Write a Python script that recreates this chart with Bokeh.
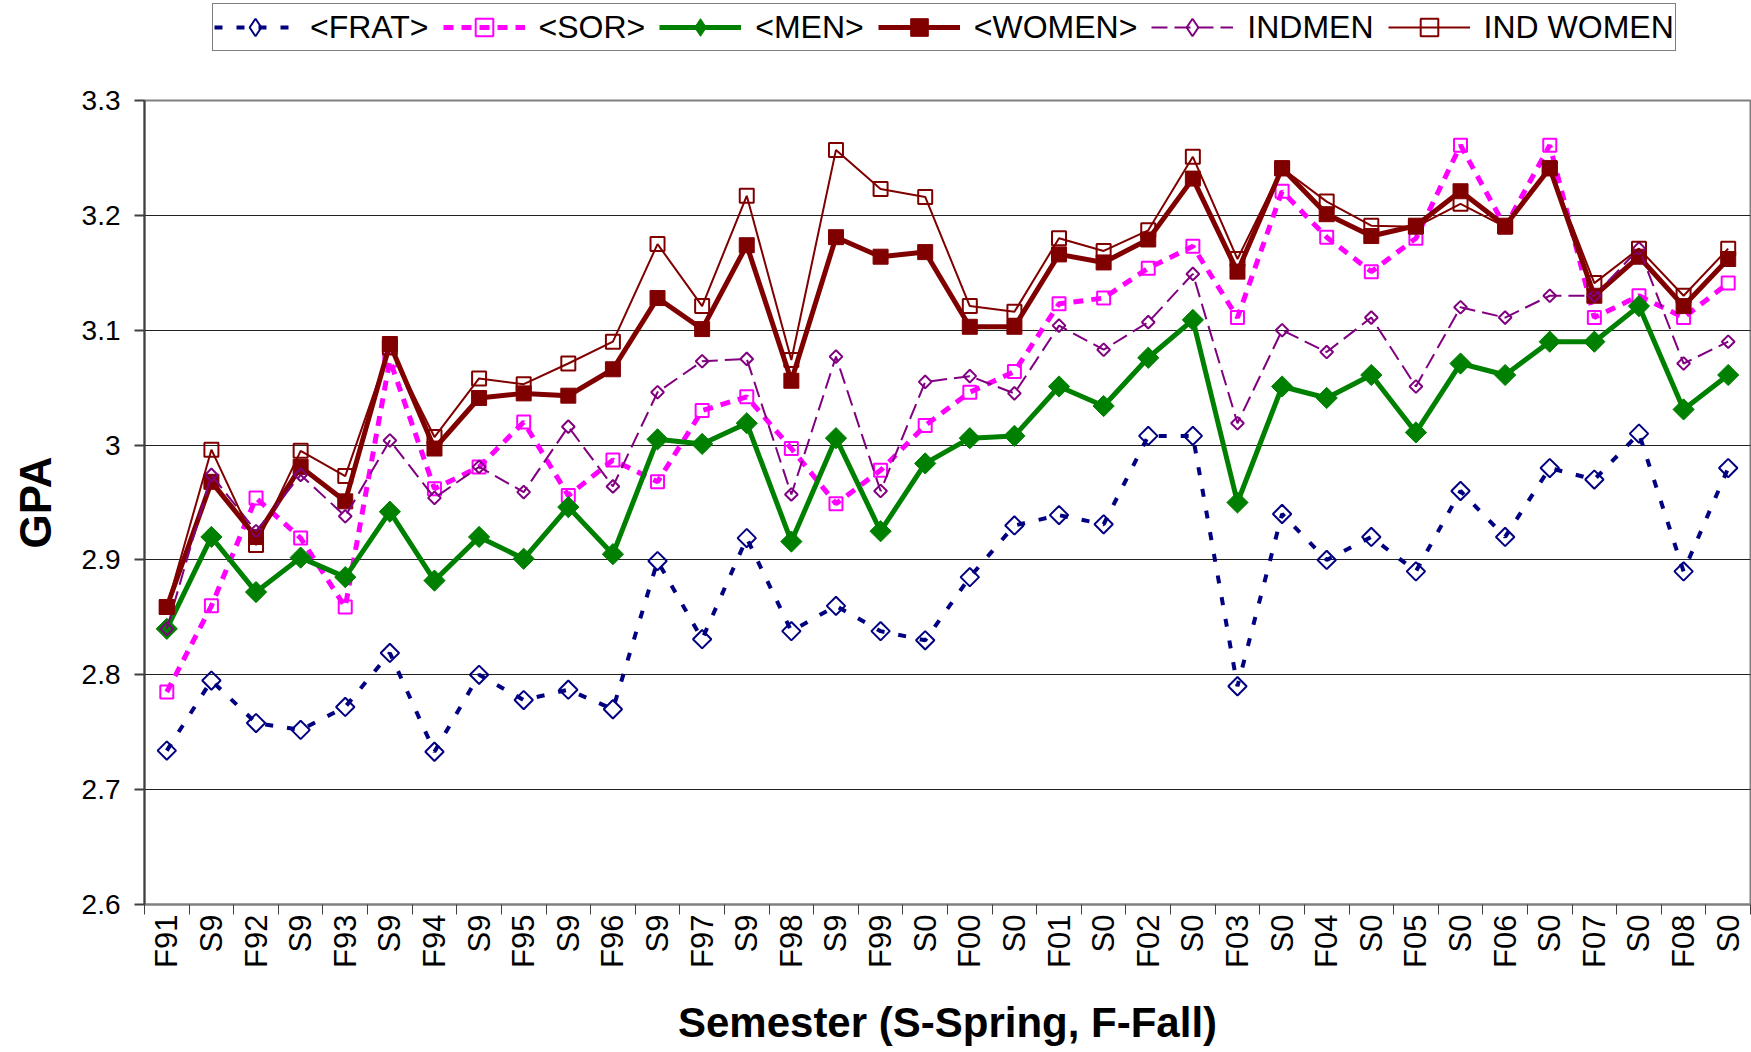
import math
from bokeh.plotting import figure
from bokeh.layouts import column
from bokeh.models import (Range1d, FixedTicker, NumeralTickFormatter, Legend, LegendItem, ColumnDataSource)
from bokeh.embed import file_html
from bokeh.resources import INLINE

categories = ["F91", "S9", "F92", "S9", "F93", "S9", "F94", "S9", "F95", "S9", "F96", "S9",
              "F97", "S9", "F98", "S9", "F99", "S0", "F00", "S0", "F01", "S0", "F02", "S0",
              "F03", "S0", "F04", "S0", "F05", "S0", "F06", "S0", "F07", "S0", "F08", "S0"]

frat = [2.734, 2.795, 2.758, 2.752, 2.772, 2.819, 2.733, 2.800, 2.778, 2.787, 2.770, 2.899,
        2.831, 2.919, 2.838, 2.860, 2.838, 2.830, 2.885, 2.930, 2.939, 2.931, 3.008, 3.008,
        2.790, 2.940, 2.900, 2.920, 2.890, 2.960, 2.920, 2.980, 2.970, 3.010, 2.890, 2.980]
sor = [2.785, 2.860, 2.954, 2.919, 2.859, 3.074, 2.962, 2.981, 3.020, 2.956, 2.987, 2.968,
       3.030, 3.042, 2.997, 2.949, 2.978, 3.017, 3.046, 3.064, 3.123, 3.128, 3.154, 3.173,
       3.111, 3.221, 3.181, 3.151, 3.180, 3.261, 3.190, 3.261, 3.111, 3.130, 3.111, 3.141]
men = [2.840, 2.920, 2.872, 2.902, 2.885, 2.942, 2.882, 2.920, 2.901, 2.946, 2.905, 3.005,
       3.001, 3.019, 2.916, 3.006, 2.925, 2.984, 3.006, 3.008, 3.051, 3.034, 3.076, 3.109,
       2.950, 3.051, 3.041, 3.061, 3.011, 3.071, 3.061, 3.090, 3.090, 3.121, 3.031, 3.061]
women = [2.859, 2.968, 2.920, 2.981, 2.951, 3.088, 2.997, 3.041, 3.045, 3.043, 3.066, 3.128,
         3.101, 3.174, 3.056, 3.181, 3.164, 3.168, 3.103, 3.103, 3.166, 3.159, 3.179, 3.232,
         3.151, 3.241, 3.201, 3.182, 3.191, 3.221, 3.191, 3.241, 3.130, 3.164, 3.121, 3.162]
indmen = [2.840, 2.974, 2.925, 2.974, 2.938, 3.004, 2.954, 2.981, 2.959, 3.016, 2.964, 3.046,
          3.073, 3.075, 2.957, 3.077, 2.960, 3.055, 3.060, 3.045, 3.104, 3.083, 3.107, 3.149,
          3.019, 3.100, 3.081, 3.111, 3.051, 3.120, 3.111, 3.130, 3.130, 3.171, 3.071, 3.090]
indwomen = [2.859, 2.996, 2.913, 2.995, 2.973, 3.085, 3.007, 3.058, 3.053, 3.071, 3.090, 3.175,
            3.121, 3.217, 3.074, 3.257, 3.223, 3.216, 3.121, 3.116, 3.180, 3.169, 3.187, 3.251,
            3.162, 3.241, 3.212, 3.191, 3.190, 3.210, 3.190, 3.241, 3.141, 3.171, 3.130, 3.171]

y_ticks = [2.6, 2.7, 2.8, 2.9, 3.0, 3.1, 3.2, 3.3]

FONT = "Liberation Sans"
xs = list(range(len(categories)))

W = 1751
LEG_H = 60
TOP, BOTTOM, LEFT, RIGHT = 40, 146, 144, 1
FRAME_H = 804
H = TOP + FRAME_H + BOTTOM

p = figure(width=W, height=H, output_backend="svg", toolbar_location=None,
           x_range=Range1d(-0.5, len(categories) - 0.5), y_range=Range1d(2.6, 3.3),
           min_border_left=LEFT, min_border_right=RIGHT, min_border_top=TOP,
           min_border_bottom=BOTTOM,
           background_fill_color="white", border_fill_color="white")
p.outline_line_color = "#808080"
p.outline_line_width = 2

# y axis
p.yaxis.ticker = FixedTicker(ticks=y_ticks)
p.yaxis.formatter = NumeralTickFormatter(format="0.[0]")
p.yaxis.major_label_text_font = FONT
p.yaxis.major_label_text_font_size = "28px"
p.yaxis.major_label_text_color = "black"
p.yaxis.major_tick_out = 10
p.yaxis.major_tick_in = 0
p.yaxis.minor_tick_line_color = None
p.yaxis.major_label_standoff = 14
p.yaxis.axis_line_color = "#404040"
p.yaxis.axis_line_width = 2
p.yaxis.major_tick_line_color = "#404040"
p.yaxis.major_tick_line_width = 2
p.yaxis.axis_label = "GPA"
p.yaxis.axis_label_text_font = FONT
p.yaxis.axis_label_text_font_style = "bold"
p.yaxis.axis_label_text_font_size = "44px"
p.yaxis.axis_label_text_color = "black"
p.yaxis.axis_label_standoff = 19

# x axis (category positions with labels, ticks between categories)
p.xaxis.ticker = FixedTicker(ticks=xs, minor_ticks=[i - 0.5 for i in range(len(categories) + 1)])
p.xaxis.major_label_overrides = {i: c for i, c in enumerate(categories)}
p.xaxis.major_label_orientation = math.pi / 2
p.xaxis.major_label_text_font = FONT
p.xaxis.major_label_text_font_size = "31px"
p.xaxis.major_label_text_color = "black"
p.xaxis.major_tick_line_color = None
p.xaxis.major_tick_out = 10
p.xaxis.minor_tick_out = 10
p.xaxis.minor_tick_in = 0
p.xaxis.minor_tick_line_color = "#404040"
p.xaxis.minor_tick_line_width = 1
p.xaxis.major_label_standoff = 0
p.xaxis.axis_line_color = "#808080"
p.xaxis.axis_line_width = 2
p.xaxis.axis_label = "Semester (S-Spring, F-Fall)"
p.xaxis.axis_label_text_font = FONT
p.xaxis.axis_label_text_font_style = "bold"
p.xaxis.axis_label_text_font_size = "42px"
p.xaxis.axis_label_text_color = "black"
p.xaxis.axis_label_standoff = 28

p.xgrid.grid_line_color = None
p.ygrid.grid_line_color = "#222222"
p.ygrid.grid_line_width = 1.2

# legend strip (separate figure above the chart, so the legend is not clipped)
lf = figure(width=W, height=LEG_H, output_backend="svg", toolbar_location=None,
            x_range=Range1d(-0.5, len(categories) - 0.5), y_range=Range1d(2.6, 3.3),
            x_axis_type=None, y_axis_type=None,
            min_border_left=0, min_border_right=0, min_border_top=0, min_border_bottom=0,
            background_fill_color="white", border_fill_color="white")
lf.outline_line_color = None
lf.grid.grid_line_color = None

# name, values, colour, line width, dash, marker size, rotated(diamond), marker line width (0 = filled)
series = [
    ("<FRAT>", frat, "#000080", 4, "8 14", 13, True, 2),
    ("<SOR>", sor, "#FF00FF", 5, "10 8", 13, False, 2),
    ("<MEN>", men, "#008000", 5, None, 15, True, 0),
    ("<WOMEN>", women, "#800000", 5, None, 15, False, 0),
    ("INDMEN", indmen, "#800080", 2, "16 7", 9, True, 2),
    ("IND WOMEN", indwomen, "#800000", 2, None, 14, False, 2),
]

items = []
for name, vals, color, lw, dash, size, rotate, mlw in series:
    src = ColumnDataSource(dict(x=xs, y=vals))
    kw = {}
    if dash:
        kw["line_dash"] = dash
    filled = (mlw == 0)
    p.line("x", "y", source=src, line_color=color, line_width=lw, **kw)
    p.scatter("x", "y", source=src, marker="square", size=size,
              angle=(math.pi / 4 if rotate else 0.0),
              line_color=color, line_width=(1 if filled else mlw),
              fill_color=(color if filled else None))
    # hidden copies in the legend strip, used only to draw the legend glyphs
    ln = lf.line("x", "y", source=src, line_color=color, line_width=lw, visible=False, **kw)
    lg = lf.scatter("x", "y", source=src, marker=("diamond" if rotate else "square"),
                    size=size, line_color=color, line_width=(1 if filled else mlw),
                    fill_color=(color if filled else None), visible=False)
    items.append(LegendItem(label=name, renderers=[ln, lg]))

legend_h = 46
legend = Legend(items=items, orientation="horizontal",
                location=(212 - LEFT, LEG_H - legend_h - 5),
                label_text_font=FONT, label_text_font_size="32px", label_text_color="black",
                label_height=34, glyph_width=82, glyph_height=44, label_standoff=14,
                spacing=14, padding=1, margin=0, border_line_color="black",
                border_line_width=1.5, background_fill_color="white",
                background_fill_alpha=1.0)
lf.add_layout(legend, "center")

layout = column(lf, p, spacing=0)
open("out.html", "w").write(file_html(layout, INLINE))
